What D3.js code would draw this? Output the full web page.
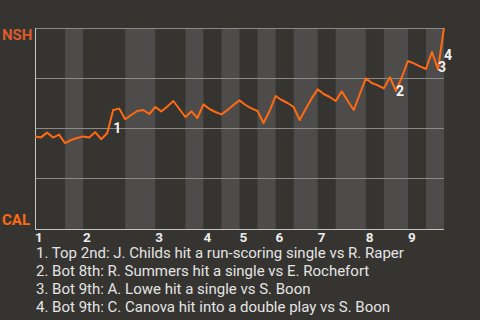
<!DOCTYPE html>
<html>
<head>
<meta charset="utf-8">
<script src="https://cdn.jsdelivr.net/npm/d3@7"></script>
<style>
	html, body { margin: 0; padding: 0; background: #363431; }
	svg { display: block; font-family: Roboto, sans-serif; }
</style>
</head>
<body>
<svg id="chart"></svg>
<script>
// NSH win probability (%) after each play, in order
const winProb = [
	45.7, 45.3, 47.7, 45.2, 46.7, 42.4, 44.0, 45.0, 45.8, 45.2,
	47.9, 44.4, 47.4, 59.0, 59.7, 54.4, 56.5, 58.5, 59.0, 57.0,
	60.5, 58.3, 60.8, 63.5, 59.5, 55.5, 58.3, 55.0, 61.8, 59.5,
	58.0, 56.8, 59.0, 61.5, 63.8, 61.5, 59.8, 58.5, 52.5, 58.5,
	66.0, 64.0, 62.5, 60.5, 54.0, 59.5, 64.8, 69.3, 67.0, 65.5,
	63.5, 68.3, 63.5, 59.0, 67.0, 74.8, 72.5, 71.3, 69.8, 75.4,
	68.5, 75.5, 83.5, 82.3, 80.8, 79.5, 88.0, 79.3, 100
];
// number of plays in each half inning (top 1, bot 1, top 2, ...)
const halfInningPlays = [5, 3, 7, 5, 5, 3, 3, 3, 3, 3, 3, 4, 3, 5, 3, 4, 3, 3];
const innings = ["1", "2", "3", "4", "5", "6", "7", "8", "9"];
const teams = ["NSH", "CAL"];
// key plays: index into winProb
const eventIndex = [13, 60, 67, 68];
const eventText = [
	"1. Top 2nd: J. Childs hit a run-scoring single vs R. Raper",
	"2. Bot 8th: R. Summers hit a single vs E. Rochefort",
	"3. Bot 9th: A. Lowe hit a single vs S. Boon",
	"4. Bot 9th: C. Canova hit into a double play vs S. Boon"
];

const width = 480;
const height = 320;
const plot = { left: 35, right: 444, top: 28, bottom: 228 };

const svg = d3.select("#chart").attr("width", width).attr("height", height);

const x = d3.scaleLinear().domain([0, winProb.length - 1]).range([plot.left, plot.right]);
const y = d3.scaleLinear().domain([0, 100]).range([plot.bottom, plot.top]);

// half inning bands, bottom halves are shaded
const bounds = [0];
halfInningPlays.forEach((n) => bounds.push(bounds[bounds.length - 1] + n));
const bands = halfInningPlays.map((n, i) => ({ start: bounds[i], end: bounds[i + 1], bottom: i % 2 === 1 }));

svg.append("g")
	.selectAll("rect")
	.data(bands.filter((d) => d.bottom))
	.join("rect")
	.attr("x", (d) => x(d.start))
	.attr("width", (d) => x(d.end) - x(d.start))
	.attr("y", plot.top)
	.attr("height", plot.bottom + 2 - plot.top)
	.attr("fill", "#4e4c4a");

// horizontal grid
svg.append("g")
	.selectAll("line")
	.data([100, 75, 50, 25])
	.join("line")
	.attr("x1", plot.left)
	.attr("x2", plot.right)
	.attr("y1", (d) => Math.round(y(d)) + 0.5)
	.attr("y2", (d) => Math.round(y(d)) + 0.5)
	.attr("stroke", "#8a8a88")
	.attr("stroke-width", 1);

// axes
svg.append("line")
	.attr("x1", plot.left + 0.5).attr("x2", plot.left + 0.5)
	.attr("y1", plot.top).attr("y2", plot.bottom + 2)
	.attr("stroke", "#c4c4c2");
svg.append("line")
	.attr("x1", plot.left).attr("x2", plot.right)
	.attr("y1", plot.bottom + 1.5).attr("y2", plot.bottom + 1.5)
	.attr("stroke", "#c4c4c2");

// team labels
svg.append("text")
	.attr("x", 2).attr("y", 40)
	.attr("font-size", 15).attr("font-weight", "bold")
	.attr("fill", "#dc5a2a")
	.text(teams[0]);
svg.append("text")
	.attr("x", 2).attr("y", 225)
	.attr("font-size", 15).attr("font-weight", "bold")
	.attr("fill", "#ff6a13")
	.text(teams[1]);

// inning labels at the start of each top half
svg.append("g")
	.selectAll("text")
	.data(innings)
	.join("text")
	.attr("x", (d, i) => x(bounds[i * 2]))
	.attr("y", 242)
	.attr("font-size", 13.5)
	.attr("font-weight", "bold")
	.attr("fill", "#ececec")
	.text((d) => d);

// win probability line
const line = d3.line().x((d, i) => x(i)).y((d) => y(d));
svg.append("path")
	.datum(winProb)
	.attr("d", line)
	.attr("fill", "none")
	.attr("stroke", "#ff6a13")
	.attr("stroke-width", 2)
	.attr("stroke-linejoin", "round");

// event markers
svg.append("g")
	.selectAll("text")
	.data(eventIndex)
	.join("text")
	.attr("x", (d) => x(d))
	.attr("y", (d) => (y(winProb[d]) + y(winProb[d - 1])) / 2 + 11.5)
	.attr("font-size", 14)
	.attr("font-weight", "bold")
	.attr("fill", "#f2f2f2")
	.text((d, i) => i + 1);

// event list
svg.append("g")
	.selectAll("text")
	.data(eventText)
	.join("text")
	.attr("x", 36)
	.attr("y", (d, i) => 257.5 + i * 18)
	.attr("font-size", 15)
	.attr("fill", "#e4e4e4")
	.text((d) => d);
</script>
</body>
</html>
